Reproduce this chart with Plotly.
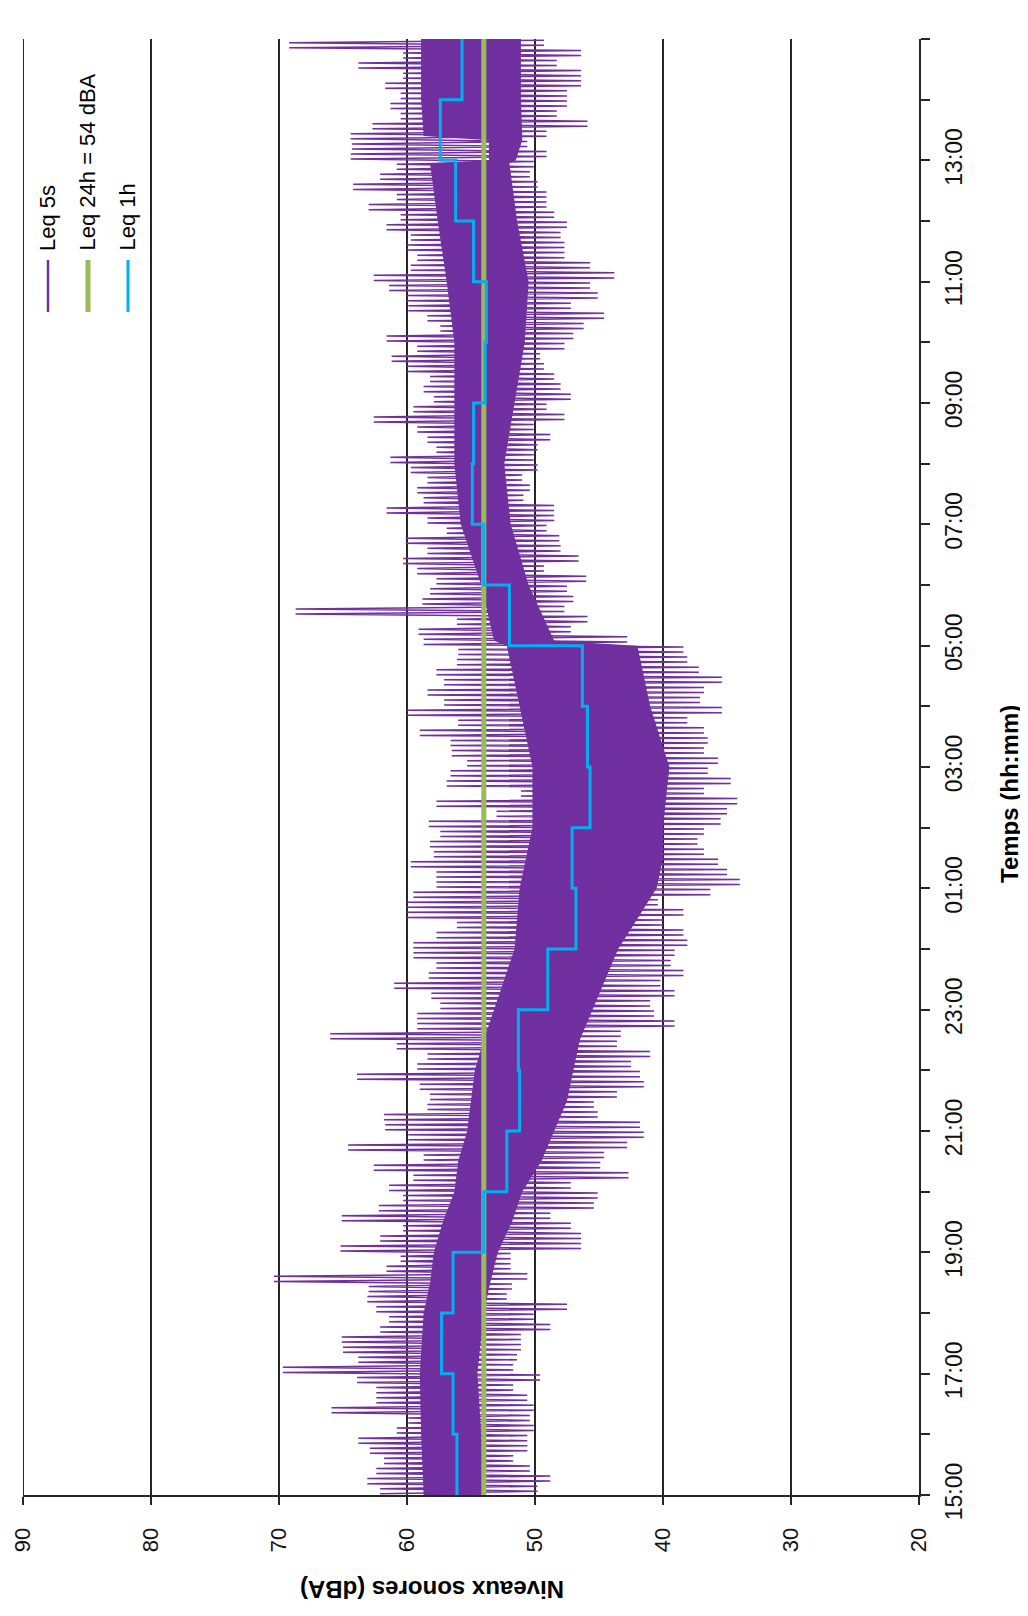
import pandas as pd
import plotly.graph_objects as go

# ---------------- data ----------------
START = pd.Timestamp("2014-05-20 15:00")
END = START + pd.Timedelta(hours=24)

db_ticks = [90, 80, 70, 60, 50, 40, 30, 20]

# Leq 1h (dBA), one value per hour starting 15:00
leq1h = [56.1, 56.4, 57.3, 56.4, 54.0, 52.2, 51.2, 51.3, 49.0, 46.8, 47.1, 45.7,
         45.9, 46.3, 52.0, 54.0, 54.9, 54.8, 53.9, 53.8, 54.8, 56.2, 57.4, 55.7]

leq24h = 54.0

# Leq 5s : highest and lowest reading in each 10-minute block (6 per hour, from 15:00)
leq5s_max = [
    62.1, 63.1, 62.4, 61.8, 62.9, 63.8,
    60.8, 59.9, 65.9, 62.4, 62.4, 63.9,
    69.7, 63.8, 65.0, 65.1, 62.1, 61.4,
    62.4, 63.1, 63.0, 70.4, 61.6, 60.5,
    65.2, 62.1, 60.3, 65.1, 62.2, 60.3,
    61.4, 59.5, 62.6, 58.7, 64.6, 59.9,
    61.7, 61.8, 58.4, 58.2, 59.0, 63.9,
    59.2, 58.4, 60.8, 66.0, 59.2, 59.2,
    57.4, 58.1, 61.0, 58.3, 57.7, 59.5,
    59.5, 57.7, 56.1, 60.0, 60.0, 59.5,
    57.7, 57.7, 59.7, 57.9, 58.2, 57.4,
    58.3, 53.0, 57.7, 51.1, 56.9, 56.6,
    55.3, 56.5, 56.6, 59.0, 56.0, 60.0,
    57.1, 58.4, 57.1, 57.7, 56.1, 56.0,
    58.7, 59.1, 56.1, 68.7, 58.8, 58.2,
    57.7, 59.2, 60.3, 58.4, 60.1, 56.9,
    58.4, 61.6, 58.7, 59.2, 58.4, 59.7,
    61.3, 57.7, 58.4, 59.2, 62.6, 59.5,
    57.9, 58.7, 58.2, 60.0, 61.2, 59.2,
    61.6, 57.4, 58.4, 59.9, 60.0, 61.4,
    62.6, 59.7, 59.2, 60.0, 59.7, 61.6,
    60.5, 63.0, 60.8, 64.2, 62.1, 60.8,
    64.4, 64.3, 64.4, 62.7, 60.5, 61.3,
    60.5, 61.7, 60.3, 63.8, 60.3, 69.2,
]
leq5s_min = [
    49.8, 48.8, 50.4, 51.7, 50.6, 50.6,
    50.1, 50.4, 50.1, 50.6, 51.7, 49.6,
    51.7, 51.4, 51.1, 51.1, 48.8, 50.1,
    47.5, 52.2, 51.8, 50.6, 51.9, 51.9,
    46.4, 46.4, 47.2, 48.8, 45.4, 45.1,
    47.2, 42.7, 44.9, 44.6, 42.8, 41.5,
    41.8, 45.1, 45.4, 43.6, 41.5, 41.8,
    42.5, 41.0, 43.6, 43.3, 39.1, 40.7,
    41.0, 39.1, 40.2, 38.4, 39.4, 39.1,
    38.1, 38.4, 40.0, 38.4, 40.4, 36.3,
    34.0, 35.0, 35.7, 36.8, 37.3, 36.8,
    35.5, 35.0, 34.2, 36.8, 34.7, 36.5,
    35.7, 36.8, 36.5, 36.8, 38.1, 35.4,
    37.1, 36.8, 35.4, 37.2, 38.1, 38.4,
    42.8, 47.2, 45.9, 47.7, 47.0, 47.5,
    46.0, 49.3, 46.6, 48.0, 48.1, 49.1,
    48.5, 48.5, 50.9, 50.4, 51.0, 49.8,
    50.1, 49.8, 48.8, 50.1, 47.7, 49.1,
    47.2, 48.0, 48.5, 49.3, 49.6, 47.7,
    47.0, 46.2, 44.6, 47.2, 45.1, 45.7,
    43.8, 45.7, 47.7, 47.7, 48.0, 47.5,
    48.5, 49.1, 49.1, 49.8, 50.4, 50.1,
    49.1, 50.6, 49.1, 45.9, 48.3, 47.5,
    47.5, 46.4, 46.4, 48.3, 46.4, 49.3,
]

# dense core of the Leq 5s trace (hours after 15:00, upper and lower dBA)
core_hours = [0.0, 1.0, 2.0, 3.0, 3.5, 4.0, 4.5, 5.0, 5.5, 6.0, 6.5, 7.0, 7.5,
              8.0, 8.5, 9.0, 9.5, 10.0, 10.5, 11.0, 12.0, 13.0, 13.5, 14.0,
              14.08, 15.0, 16.0, 17.0, 18.0, 19.0, 20.0, 21.0, 21.95, 22.0,
              22.33, 22.4, 23.0, 24.0]
core_max = [58.7, 58.9, 59.0, 58.7, 58.2, 57.9, 57.2, 56.3, 56.0, 55.3, 55.0, 54.7, 54.0,
            53.2, 52.4, 51.6, 51.4, 51.2, 50.7, 50.2, 50.2, 51.2, 51.7, 52.2,
            53.2, 54.2, 55.8, 56.3, 56.3, 56.3, 56.9, 57.6, 58.2, 53.6,
            53.6, 58.7, 58.9, 58.9]
core_min = [54.0, 54.2, 54.5, 54.0, 53.5, 52.9, 51.8, 51.0, 49.5, 48.5, 47.5, 47.0, 46.5,
            45.5, 44.5, 43.5, 42.0, 40.5, 40.0, 40.0, 39.5, 41.0, 41.5, 42.0,
            48.5, 50.5, 51.9, 52.4, 51.6, 50.8, 50.5, 51.4, 52.0, 51.5,
            51.0, 51.0, 51.1, 51.1]

legend_labels = ["Leq 5s", "Leq 24h = 54 dBA", "Leq 1h"]

# ---------------- styles ----------------
PURPLE = "#7030A0"
GREEN = "#9BBB59"
BLUE = "#00B0F0"
GRID = "#262626"
TICK_FONT = "Liberation Sans, Arial, sans-serif"
TEXT_FONT = "Liberation Sans, Arial, sans-serif"

# ---------------- derived series ----------------
# each 10-minute block is drawn as two swings between its extremes
zz_x, zz_y = [], []
for k, (hi, lo) in enumerate(zip(leq5s_max, leq5s_min)):
    zz_x += [hi, lo, hi, lo]
    zz_y += [START + pd.Timedelta(minutes=10 * k + m) for m in (1.25, 3.75, 6.25, 8.75)]

core_t = [START + pd.Timedelta(hours=h) for h in core_hours]
poly_x = core_max + core_min[::-1]
poly_y = core_t + core_t[::-1]

hours_t = [START + pd.Timedelta(hours=i) for i in range(len(leq1h) + 1)]

fig = go.Figure()
fig.add_trace(go.Scatter(x=poly_x, y=poly_y, mode="lines", fill="toself",
                         fillcolor=PURPLE, line=dict(width=0, color=PURPLE),
                         hoverinfo="skip", name="core"))
fig.add_trace(go.Scatter(x=zz_x, y=zz_y, mode="lines",
                         line=dict(color=PURPLE, width=1.5), name=legend_labels[0]))
fig.add_trace(go.Scatter(x=[leq24h, leq24h], y=[START, END], mode="lines",
                         line=dict(color=GREEN, width=5), name=legend_labels[1]))
fig.add_trace(go.Scatter(x=leq1h + [leq1h[-1]], y=hours_t, mode="lines", line_shape="vh",
                         line=dict(color=BLUE, width=3), name=legend_labels[2]))

# page body margin of the browser shifts the figure; compensate
OFF = 8
# plot area in (reference) pixels
L, R, T, B = 23 - OFF, 919 - OFF, 39 - OFF, 1495 - OFF
W, H = R - L, B - T


def px(x):
    return (x - OFF - L) / W


def py(y):
    return (B - (y - OFF)) / H


fig.update_layout(
    width=1028, height=1616,
    margin=dict(l=L, r=1028 - R, t=T, b=1616 - B, pad=0, autoexpand=False),
    paper_bgcolor="white", plot_bgcolor="white",
    showlegend=False,
    xaxis=dict(
        range=[90, 20], tickvals=db_ticks, ticktext=[str(v) for v in db_ticks],
        ticks="outside", ticklen=8, tickwidth=2, tickcolor=GRID,
        tickangle=-90, tickfont=dict(family=TICK_FONT, size=22, color="#111111"),
        ticklabelstandoff=14, automargin=False,
        showgrid=True, gridcolor=GRID, gridwidth=2,
        showline=True, linecolor=GRID, linewidth=2, zeroline=False,
    ),
    yaxis=dict(
        type="date", range=[START, END], side="right",
        tick0=START, dtick=2 * 3600000, tickformat="%H:%M",
        ticks="outside", ticklen=9, tickwidth=2, tickcolor=GRID,
        tickangle=-90, tickfont=dict(family=TICK_FONT, size=23, color="#111111"),
        ticklabelstandoff=4, automargin=False,
        minor=dict(dtick=3600000, ticks="outside", ticklen=9, tickwidth=2,
                   tickcolor=GRID, showgrid=False),
        showgrid=False, showline=True, linecolor=GRID, linewidth=2, zeroline=False,
    ),
)

annotations = [
    dict(text="Niveaux sonores (dBA)", x=px(432), y=py(1590), xref="paper", yref="paper",
         showarrow=False, textangle=180, xanchor="center", yanchor="middle",
         font=dict(family=TEXT_FONT, size=24, color="black", weight="bold")),
    dict(text="Temps (hh:mm)", x=px(1010), y=py(794), xref="paper", yref="paper",
         showarrow=False, textangle=-90, xanchor="center", yanchor="middle",
         font=dict(family=TEXT_FONT, size=24, color="black", weight="bold")),
]
legend_x = [48, 88, 128]
legend_colors = [PURPLE, GREEN, BLUE]
legend_widths = [2.5, 5, 3]
shapes = [
    # left frame line at 90 dBA
    dict(type="line", xref="x", yref="paper", x0=db_ticks[0], x1=db_ticks[0], y0=0, y1=1,
         line=dict(color=GRID, width=2)),
]
for lab, lx, col, lw in zip(legend_labels, legend_x, legend_colors, legend_widths):
    annotations.append(dict(text=lab, x=px(lx - 1), y=py(253), xref="paper", yref="paper",
                            showarrow=False, textangle=-90, xanchor="center", yanchor="bottom",
                            font=dict(family=TEXT_FONT, size=22, color="black")))
    shapes.append(dict(type="line", xref="paper", yref="paper", x0=px(lx), x1=px(lx),
                       y0=py(260), y1=py(312), line=dict(color=col, width=lw)))

fig.update_layout(annotations=annotations, shapes=shapes)

fig.write_html("out.html")
